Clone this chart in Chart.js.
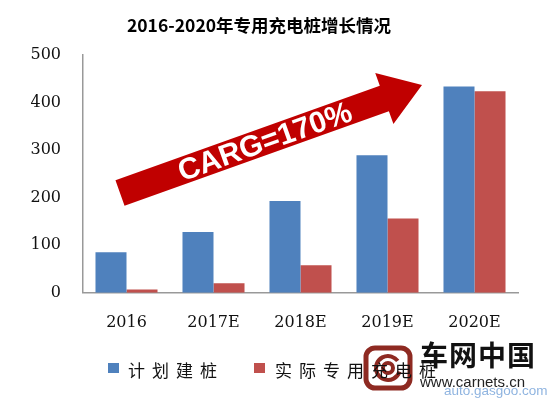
<!DOCTYPE html>
<html><head><meta charset="utf-8">
<script src="https://cdn.jsdelivr.net/npm/chart.js@4/dist/chart.umd.min.js"></script>
<style>
html,body{margin:0;padding:0;background:#fff;}
#wrap{position:relative;width:550px;height:398px;overflow:hidden;}
canvas{position:absolute;left:0;top:0;}
.lg{position:absolute;font-family:"Noto Sans CJK SC";font-size:17px;letter-spacing:7px;color:#111;line-height:20px;}
.sq{position:absolute;width:11px;height:10px;}
.wm{position:absolute;white-space:nowrap;}
</style></head>
<body><div id="wrap"><canvas id="c" width="550" height="398"></canvas>
<div class="sq" style="left:108px;top:363px;background:#4F81BD"></div>
<div class="lg" id="l1" style="left:128px;top:360px"></div>
<div class="sq" style="left:254px;top:363px;background:#C0504D"></div>
<div class="lg" id="l2" style="left:275px;top:360px"></div>
<div class="wm" style="left:420px;top:336px;font-family:'Noto Sans CJK SC';font-weight:700;font-size:28px;color:#111;letter-spacing:1px;line-height:36px">车网中国</div>
<div class="wm" style="left:420px;top:373px;font-family:'Liberation Sans';font-size:15px;color:#222;line-height:18px">www.carnets.cn</div>
<div class="wm" style="left:444px;top:383px;font-family:'Liberation Sans';font-size:13.5px;color:#8FB4E0;line-height:16px">auto.gasgoo.com</div>
</div>
<script>
const categories = ["2016", "2017E", "2018E", "2019E", "2020E"];
const plannedPiles = [85, 128, 193, 289, 434];
const actualPiles = [7, 20, 58, 156, 424];
const seriesNames = ["计划建桩", "实际专用充电桩"];
const yTicks = [0, 100, 200, 300, 400, 500];
const titleText = "2016-2020年专用充电桩增长情况";
const arrowLabel = "CARG=170%";

document.getElementById('l1').textContent = seriesNames[0];
document.getElementById('l2').textContent = seriesNames[1];

const arrowPlugin = {
  id: 'arrow',
  afterDatasetsDraw(chart) {
    const ctx = chart.ctx;
    const T = {x: 120, y: 193}, P = {x: 422, y: 85};
    const dx = P.x - T.x, dy = P.y - T.y, L = Math.hypot(dx, dy);
    const ux = dx / L, uy = dy / L, nx = -uy, ny = ux;
    const hw = 13.5, hh = 27, hl = 40;
    const B = {x: P.x - ux * hl, y: P.y - uy * hl};
    const pts = [
      [T.x + nx * hw, T.y + ny * hw],
      [B.x + nx * hw, B.y + ny * hw],
      [B.x + nx * hh, B.y + ny * hh],
      [P.x, P.y],
      [B.x - nx * hh, B.y - ny * hh],
      [B.x - nx * hw, B.y - ny * hw],
      [T.x - nx * hw, T.y - ny * hw]
    ];
    ctx.save();
    ctx.beginPath();
    pts.forEach((p, i) => i ? ctx.lineTo(p[0], p[1]) : ctx.moveTo(p[0], p[1]));
    ctx.closePath();
    ctx.fillStyle = '#C00000';
    ctx.fill();
    ctx.translate(265, 142);
    ctx.rotate(Math.atan2(dy, dx));
    ctx.fillStyle = '#fff';
    ctx.font = 'bold 30px "Liberation Sans"';
    ctx.textAlign = 'center';
    ctx.textBaseline = 'middle';
    ctx.fillText(arrowLabel, 0, 1);
    ctx.restore();
    // watermark logo
    ctx.save();
    ctx.strokeStyle = '#8E2A22';
    ctx.lineWidth = 5;
    ctx.beginPath();
    ctx.roundRect(366, 348, 44, 40, 9);
    ctx.stroke();
    ctx.lineWidth = 4;
    ctx.beginPath();
    ctx.arc(388, 368, 12, 0.3, Math.PI * 1.8);
    ctx.stroke();
    ctx.beginPath();
    ctx.arc(388, 368, 5, 0, Math.PI * 2);
    ctx.stroke();
    ctx.restore();
  }
};

new Chart(document.getElementById('c'), {
  type: 'bar',
  data: {
    labels: categories,
    datasets: [
      {label: seriesNames[0], data: plannedPiles, backgroundColor: '#4F81BD', borderWidth: 0},
      {label: seriesNames[1], data: actualPiles, backgroundColor: '#C0504D', borderWidth: 0}
    ]
  },
  options: {
    responsive: false,
    animation: false,
    categoryPercentage: 0.713,
    barPercentage: 1,
    layout: {padding: {left: 0, right: 32, top: 0, bottom: 46}},
    plugins: {
      legend: {display: false},
      tooltip: {enabled: false},
      title: {
        display: true, text: titleText, color: '#000',
        font: {family: '"Noto Sans CJK SC"', size: 17.5, weight: 'bold'},
        padding: {top: 15, bottom: 19}
      }
    },
    scales: {
      x: {
        grid: {display: false, drawTicks: false},
        border: {display: true, color: '#999', width: 1.5},
        ticks: {color: '#111', padding: 20, font: {family: '"DejaVu Serif"', size: 16}}
      },
      y: {
        min: 0, max: 500,
        afterBuildTicks(s) { s.ticks = yTicks.map(v => ({value: v})); },
        afterFit(s) { s.width = 83; },
        grid: {display: false, drawTicks: false},
        border: {display: true, color: '#999', width: 1.5},
        ticks: {color: '#111', padding: 22, font: {family: '"DejaVu Serif"', size: 16}}
      }
    }
  },
  plugins: [arrowPlugin]
});
</script></body></html>
